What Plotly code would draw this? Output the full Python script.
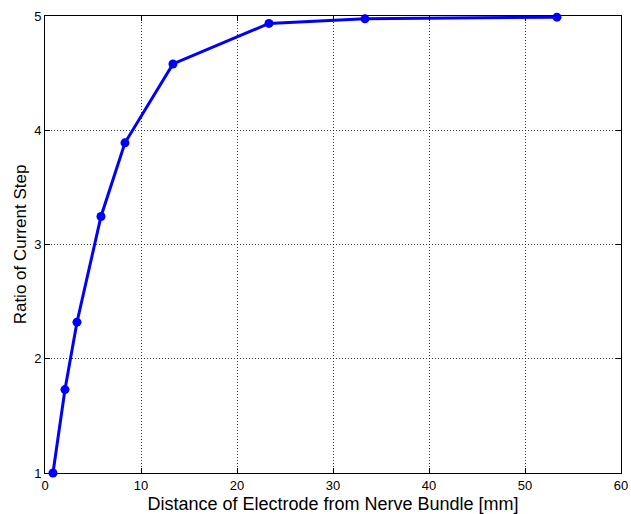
import plotly.graph_objects as go

distance_mm = [0.83, 2.08, 3.33, 5.83, 8.33, 13.33, 23.33, 33.33, 53.33]
ratio = [1.0, 1.73, 2.32, 3.245, 3.89, 4.58, 4.935, 4.975, 4.99]

x_ticks = [0, 10, 20, 30, 40, 50, 60]
y_ticks = [1, 2, 3, 4, 5]

FONT = "Liberation Sans, Arial, sans-serif"

fig = go.Figure()
fig.add_trace(go.Scatter(
    x=distance_mm, y=ratio, mode="lines+markers",
    line=dict(color="#0000ff", width=3),
    marker=dict(color="#0000ff", size=9),
    cliponaxis=False, showlegend=False,
))

axis_common = dict(
    showline=True, linecolor="black", linewidth=1, mirror="ticks",
    ticks="inside", ticklen=5, tickcolor="black",
    showgrid=True, gridcolor="rgba(0,0,0,0.75)", gridwidth=1, griddash="1px,2px",
    zeroline=False, automargin=False,
    tickfont=dict(family=FONT, size=13, color="black"),
)

fig.update_xaxes(
    range=[0, 60], tickvals=x_ticks,
    title=dict(text="Distance of Electrode from Nerve Bundle [mm]",
               font=dict(family=FONT, size=18, color="black"),
               standoff=5),
    **axis_common,
)
fig.update_yaxes(
    range=[1, 5], tickvals=y_ticks,
    title=dict(text="Ratio of Current Step",
               font=dict(family=FONT, size=17, color="black"),
               standoff=3),
    **axis_common,
)

fig.update_layout(
    width=631, height=514,
    margin=dict(l=45, r=10, t=16, b=41),
    paper_bgcolor="white", plot_bgcolor="white",
)

fig.write_html(
    "out.html",
    config={"displayModeBar": False},
    post_script="document.body.style.margin='0';document.body.style.overflow='hidden';",
)
